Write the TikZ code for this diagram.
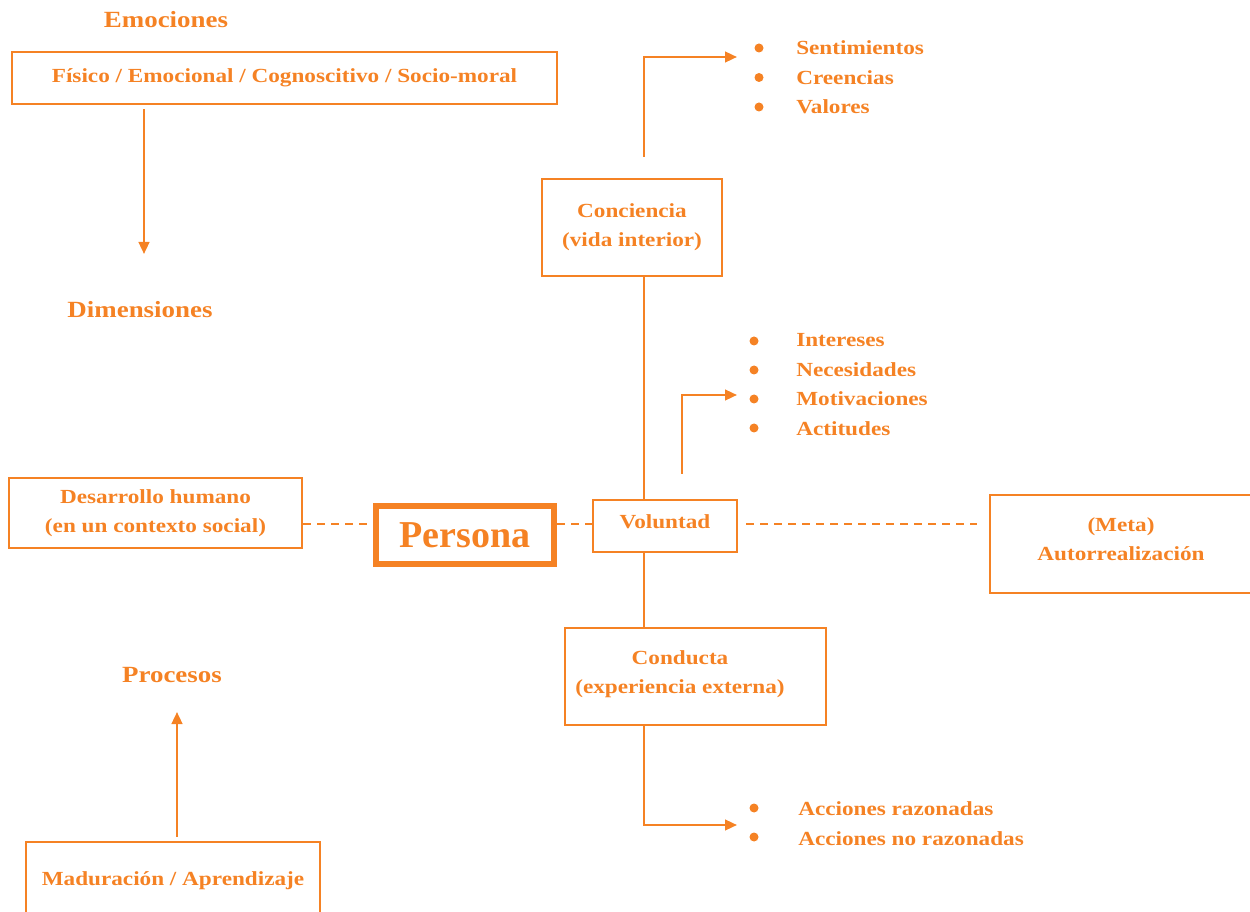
\documentclass[tikz,border=0pt]{standalone}
\usepackage{fontspec}
\setmainfont{Liberation Serif}[FakeStretch=1.16]
\newfontfamily\personafont{Liberation Serif}
\usetikzlibrary{arrows.meta}
\definecolor{naranja}{RGB}{245,130,36}

\begin{document}
\begin{tikzpicture}[x=0.75pt,y=-0.75pt,
    every node/.style={text=naranja, font=\bfseries\fontsize{15}{22}\selectfont},
    titulo/.style={anchor=base, font=\bfseries\fontsize{17.4}{22}\selectfont},
    caja/.style={draw=naranja, line width=2pt, align=center, inner sep=0pt},
    linea/.style={draw=naranja, line width=1.7pt},
    flecha/.style={linea, -{Triangle[length=9pt,width=8pt]}},
    discont/.style={linea, dash pattern=on 6pt off 4.5pt}]

        \clip (0,0) rectangle (1250,912);

        % titulos
        \node[titulo] (emociones)   at (166,28)  {Emociones};
        \node[titulo] (dimensiones) at (140,318) {Dimensiones};
        \node[titulo] (procesos)    at (172,682) {Procesos};

        % cajas
        \begin{scope}[every node/.append style={caja}]
          \node[minimum width=408.75pt, minimum height=39pt]    (fisico)     at (284.5,78)  {Físico / Emocional / Cognoscitivo / Socio-moral};
          \node[minimum width=219.75pt, minimum height=52.5pt]  (desarrollo) at (155.5,513) {Desarrollo humano\\(en un contexto social)};
          \node[minimum width=108pt,    minimum height=39pt, text depth=6pt] (voluntad) at (665,526) {Voluntad};
          \node[minimum width=196.5pt,  minimum height=73.5pt, text depth=7pt] (meta) at (1121,544) {(Meta)\\Autorrealización};
          \node[minimum width=135pt,    minimum height=72.75pt] (conciencia) at (632,227.5) {Conciencia\\(vida interior)};
          \node[minimum width=195.75pt, minimum height=72.75pt] (conducta)   at (695.5,676.5) {};
          \node[minimum width=220.5pt,  minimum height=58.5pt, text depth=4pt] (maduracion) at (173,881) {Maduración / Aprendizaje};
          \node[line width=4.5pt, minimum width=133.5pt, minimum height=43.5pt,
                font=\personafont\bfseries\fontsize{28.5}{30}\selectfont] (persona) at (465,535) {Persona};
        \end{scope}
        \node[align=center] (conductatxt) at (680,674) {Conducta\\(experiencia externa)};

        % listas
        \foreach \t [count=\i] in {Sentimientos,Creencias,Valores} {
          \node[anchor=west, inner sep=0pt] (con\i) at (796,{48+(\i-1)*29.5}) {\t};
          \fill[naranja] (759,{48+(\i-1)*29.5}) circle (4.5);
        }
        \foreach \t [count=\i] in {Intereses,Necesidades,Motivaciones,Actitudes} {
          \node[anchor=west, inner sep=0pt] (vol\i) at (796,{340+(\i-1)*29.5}) {\t};
          \fill[naranja] (754,{341+(\i-1)*29}) circle (4.5);
        }
        \foreach \t [count=\i] in {Acciones razonadas,Acciones no razonadas} {
          \node[anchor=west, inner sep=0pt] (acc\i) at (798,{809+(\i-1)*29.5}) {\t};
          \fill[naranja] (754,{808+(\i-1)*29}) circle (4.5);
        }

        \coordinate (eje)   at (644,524);
        \coordinate (dimtop) at (144,254);
        \coordinate (procbot) at (177,712);
        \coordinate (c1) at (644,157);
        \coordinate (c2) at (737,57);
        \coordinate (v1) at (682,474);
        \coordinate (v2) at (737,395);
        \coordinate (a2) at (737,825);

        % conectores
        \draw[flecha] ([yshift=-3pt]fisico.south -| dimtop) -- (dimtop);
        \draw[flecha] ([yshift=3pt]maduracion.north -| procbot) -- (procbot);
        \draw[discont] (desarrollo.east |- eje) -- (persona.west |- eje);
        \draw[discont] (persona.east |- eje) -- (voluntad.west |- eje);
        \draw[discont, shorten <=6pt, shorten >=9pt] (voluntad.east |- eje) -- (meta.west |- eje);
        \draw[linea] (conciencia.south -| eje) -- (voluntad.north -| eje);
        \draw[linea] (voluntad.south -| eje) -- (conducta.north -| eje);
        \draw[flecha] (c1) |- (c2);
        \draw[flecha] (v1) |- (v2);
        \draw[flecha] (conducta.south -| eje) |- (a2);

\end{tikzpicture}
\end{document}
